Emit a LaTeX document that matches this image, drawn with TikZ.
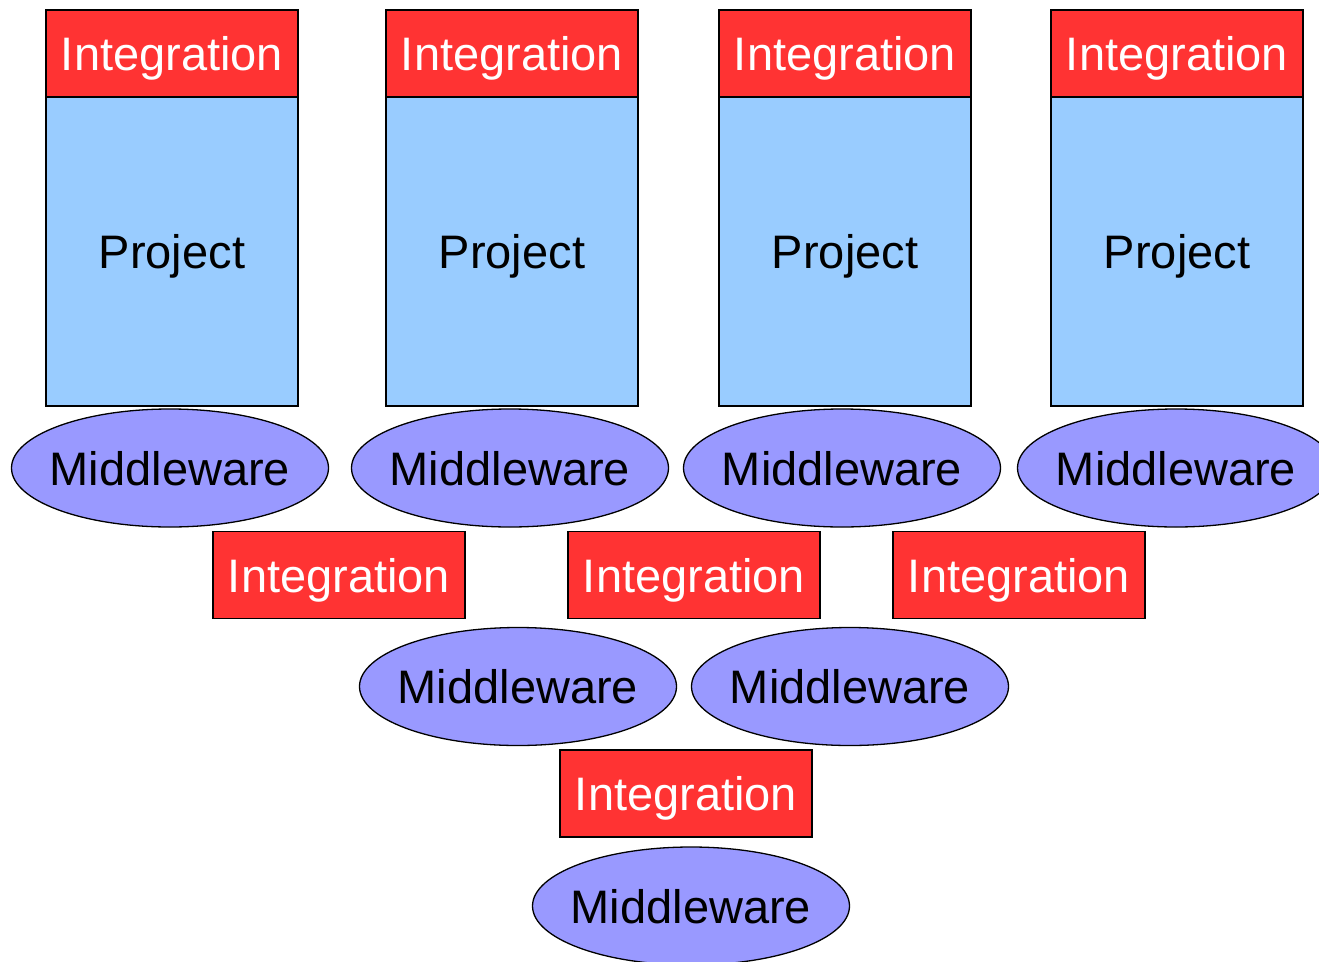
\documentclass[tikz,border=0pt]{standalone}
\usepackage{fontspec}
\setmainfont{Liberation Sans}
\usetikzlibrary{shapes.geometric}
\definecolor{intred}{HTML}{FF3333}
\definecolor{projblue}{HTML}{99CCFF}
\definecolor{mwblue}{HTML}{9999FF}
\begin{document}
\begin{tikzpicture}[x=1pt,y=-1pt,
  every node/.style={font=\fontsize{47}{50}\selectfont, inner sep=0pt, outer sep=0pt, line width=1.3pt, text height=34pt, text depth=0pt},
  intbox/.style={draw=black, fill=intred, text=white, rectangle, minimum width=252pt, minimum height=87pt},
  projbox/.style={draw=black, fill=projblue, text=black, rectangle, minimum width=252pt, minimum height=309pt},
  mw/.style={draw=black, fill=mwblue, text=black, ellipse, minimum width=317pt, minimum height=118pt, text width=0pt, align=center}]
\useasboundingbox (0,0) rectangle (1319,961);
\clip (0,0) rectangle (1319,961);
% top row: projects
\node[projbox] (p1) at (172,251.5) {Project};
\node[projbox] (p2) at (512,251.5) {Project};
\node[projbox] (p3) at (845,251.5) {Project};
\node[projbox] (p4) at (1177,251.5) {Project};
\node[intbox] (i1) at (172,53.5) {Integration};
\node[intbox] (i2) at (512,53.5) {Integration};
\node[intbox] (i3) at (845,53.5) {Integration};
\node[intbox] (i4) at (1177,53.5) {Integration};
% middleware row 1
\node[mw] (m1) at (170,468) {\makebox[0pt]{Middleware}};
\node[mw] (m2) at (510,468) {\makebox[0pt]{Middleware}};
\node[mw] (m3) at (842,468) {\makebox[0pt]{Middleware}};
\node[mw] (m4) at (1176,468) {\makebox[0pt]{Middleware}};
% integration row 2
\node[intbox] (j1) at (339,575) {Integration};
\node[intbox] (j2) at (694,575) {Integration};
\node[intbox] (j3) at (1019,575) {Integration};
% middleware row 2
\node[mw] (n1) at (518,686.5) {\makebox[0pt]{Middleware}};
\node[mw] (n2) at (850,686.5) {\makebox[0pt]{Middleware}};
% integration row 3
\node[intbox] (k1) at (686,793.5) {Integration};
% middleware row 3
\node[mw] (o1) at (691,906) {\makebox[0pt]{Middleware}};
\end{tikzpicture}
\end{document}
